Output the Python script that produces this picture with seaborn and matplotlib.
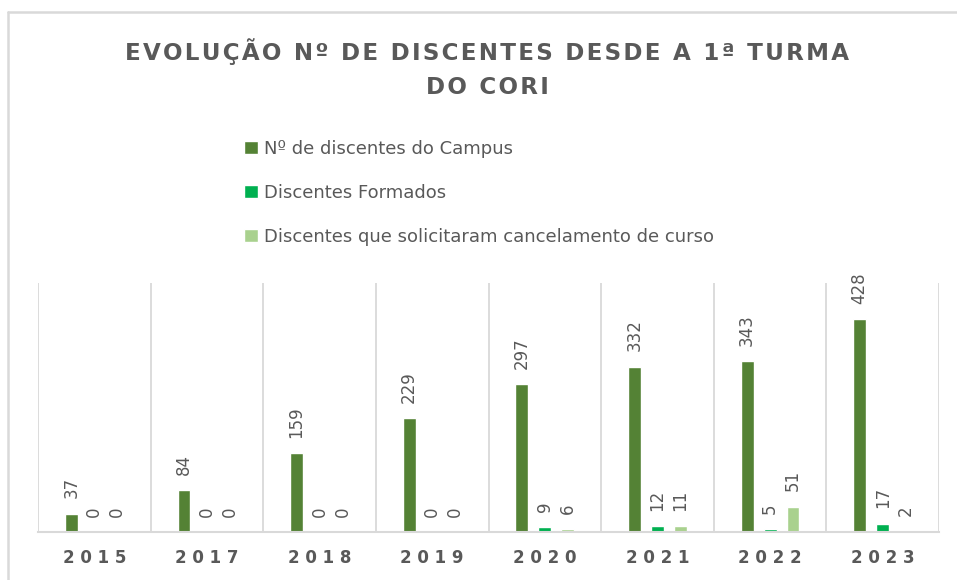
import numpy as np
import pandas as pd
import matplotlib.pyplot as plt
from matplotlib.lines import Line2D
import seaborn as sns

sns.set_style("white")
plt.rcParams["font.family"] = ["DejaVu Sans"]

# data
years = ["2015", "2017", "2018", "2019", "2020", "2021", "2022", "2023"]
series_names = ["Nº de discentes do Campus",
                "Discentes Formados",
                "Discentes que solicitaram cancelamento de curso"]
discentes = [37, 84, 159, 229, 297, 332, 343, 428]
formados = [0, 0, 0, 0, 9, 12, 5, 17]
cancelados = [0, 0, 0, 0, 6, 11, 51, 2]
colors = ["#548235", "#00B050", "#A9D18E"]

df = pd.DataFrame({
    "ano": years * 3,
    "serie": [series_names[0]] * 8 + [series_names[1]] * 8 + [series_names[2]] * 8,
    "valor": discentes + formados + cancelados,
})

gray = "#595959"
light = "#D9D9D9"

fig = plt.figure(figsize=(9.57, 5.80), dpi=100)
ax = fig.add_axes([0.0397, 0.0828, 0.9415, 0.4293])

sns.barplot(data=df, x="ano", y="valor", hue="serie", hue_order=series_names,
            palette=colors, saturation=1, width=0.612, gap=0.44, ax=ax, legend=True)

ax.set_ylim(0, 500)
ax.set_xlim(-0.5, len(years) - 0.5)

# value labels above the bars
for c in ax.containers:
    ax.bar_label(c, fmt="%d", rotation=90, padding=11, fontsize=12, color=gray)

# vertical separators between categories
ax.vlines(np.arange(len(years) + 1) - 0.5, 0, 500, color=light, linewidth=1.3, zorder=0)

sns.despine(ax=ax, left=True, top=True, right=True)
ax.spines["bottom"].set_color(light)
ax.spines["bottom"].set_linewidth(1.5)
ax.set_yticks([])
ax.set_xlabel("")
ax.set_ylabel("")
ax.set_xticks(range(len(years)))
ax.set_xticklabels([" ".join(y) for y in years], fontsize=12, fontweight="bold", color=gray)
ax.tick_params(axis="x", length=0, pad=12)

# legend above the plot
handles, labels = ax.get_legend_handles_labels()
ax.get_legend().remove()
fig.legend(handles, labels, loc="upper left", bbox_to_anchor=(0.246, 0.775),
           frameon=False, fontsize=13, labelcolor=gray, borderpad=0,
           handlelength=0.75, handleheight=0.75, handletextpad=0.35, labelspacing=1.45)

# title, spaced out letters
t1 = "EVOLUÇÃO Nº DE DISCENTES DESDE A 1ª TURMA"
t2 = "DO CORI"
sp = "\u200a"
fig.text(0.509, 1 - 52 / 580, sp.join(t1), ha="center", va="center",
         fontsize=16.6, fontweight="bold", color=gray)
fig.text(0.509, 1 - 88 / 580, sp.join(t2), ha="center", va="center",
         fontsize=16.6, fontweight="bold", color=gray)

# chart border visible at top and left
fig.add_artist(Line2D([8 / 957, 1], [1 - 12 / 580, 1 - 12 / 580], color=light, linewidth=1.8))
fig.add_artist(Line2D([8 / 957, 8 / 957], [0, 1 - 12 / 580], color=light, linewidth=1.8))

fig.savefig("out.png", dpi=100, facecolor="white")
